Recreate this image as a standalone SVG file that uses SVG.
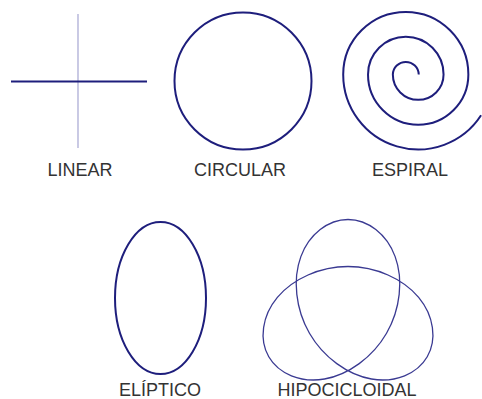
<svg xmlns="http://www.w3.org/2000/svg" width="482" height="399" viewBox="0 0 482 399">
<style>
.bg{fill:#ffffff}
.curve{fill:none;stroke:#1e1e7c;stroke-width:2}
.thin{fill:none;stroke:#a6a6d2;stroke-width:1.2}
.hypo{fill:none;stroke:#3a3a92;stroke-width:1.3;vector-effect:non-scaling-stroke}
.lbl{font-family:"Liberation Sans",Arial,sans-serif;font-size:18px;fill:#333333;text-anchor:middle}
</style>
<rect class="bg" x="0" y="0" width="482" height="399"/>
<g id="linear">
<line class="thin" x1="78" y1="14" x2="78" y2="148"/>
<line class="curve" x1="11" y1="81.5" x2="147" y2="81.5"/>
<text class="lbl" x="80" y="176">LINEAR</text>
</g>
<g id="circular">
<circle class="curve" cx="243" cy="81" r="68.5"/>
<text class="lbl" x="240" y="176">CIRCULAR</text>
</g>
<g id="espiral">
<path class="curve" d="M418.75,74.5 A12.96,12.96 0 0 0 392.84,74.5 A25.36,25.36 0 0 0 443.56,74.5 A37.77,37.77 0 0 0 368.02,74.5 A50.17,50.17 0 0 0 468.36,74.5 A62.58,62.58 0 0 0 343.2,74.5 A74.98,74.98 0 0 0 481.07,115.33"/>
<text class="lbl" x="410" y="176">ESPIRAL</text>
</g>
<g id="eliptico">
<ellipse class="curve" cx="160.5" cy="298" rx="45.5" ry="76"/>
<text class="lbl" x="160" y="396">ELÍPTICO</text>
</g>
<g id="hipocicloidal">
<path class="hypo" transform="translate(348,311)" d="M0,-91.5 C-19.63,-91.5 -38.82,-76.96 -47.14,-54.35 C-55.46,-31.74 -52.46,-1.86 -38.54,22.25 C-24.62,46.36 -0.24,63.9 23.5,68 C47.24,72.1 69.42,62.75 79.24,45.75 C89.06,28.75 86.06,4.86 70.64,-13.65 C55.22,-32.16 27.84,-44.5 0,-44.5 C-27.84,-44.5 -55.22,-32.16 -70.64,-13.65 C-86.06,4.86 -89.06,28.75 -79.24,45.75 C-69.42,62.75 -47.24,72.1 -23.5,68 C0.24,63.9 24.62,46.36 38.54,22.25 C52.46,-1.86 55.46,-31.74 47.14,-54.35 C38.82,-76.96 19.63,-91.5 0,-91.5 Z"/>
<text class="lbl" x="347" y="396">HIPOCICLOIDAL</text>
</g>
<g id="connectors"></g>
</svg>
